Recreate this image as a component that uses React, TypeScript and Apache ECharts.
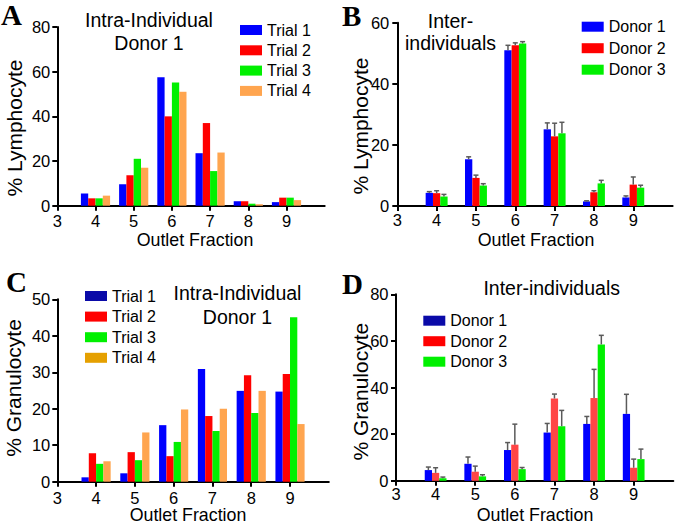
import React, { useEffect, useRef } from 'react';
import * as echarts from 'echarts';

// Outlet fractions (bar groups)
const FRACTIONS = [4, 5, 6, 7, 8, 9];

// Panel A: % Lymphocyte, intra-individual (Donor 1)
const lymphIntraTrial1 = [5.5, 9.6, 57.5, 23.5, 2.0, 1.6];
const lymphIntraTrial2 = [3.3, 13.6, 40.0, 37.0, 2.0, 3.6];
const lymphIntraTrial3 = [3.3, 21.0, 55.2, 15.5, 0.9, 3.6];
const lymphIntraTrial4 = [4.5, 17.0, 51.0, 23.8, 0.7, 2.5];

// Panel B: % Lymphocyte, inter-individuals (mean and upper error)
const lymphInterDonor1 = [4.3, 15.3, 51.0, 25.1, 1.5, 2.8];
const lymphInterDonor2 = [4.2, 9.2, 52.6, 22.8, 4.5, 7.0];
const lymphInterDonor3 = [3.1, 6.7, 53.2, 23.8, 7.4, 6.0];
const lymphInterErr1 = [0.4, 0.8, 1.6, 2.1, 0.2, 0.5];
const lymphInterErr2 = [0.8, 0.9, 0.8, 4.3, 0.5, 2.5];
const lymphInterErr3 = [0.7, 0.6, 0.6, 3.6, 1.0, 0.8];

// Panel C: % Granulocyte, intra-individual (Donor 1)
const granIntraTrial1 = [1.2, 2.3, 15.5, 30.9, 24.9, 24.7];
const granIntraTrial2 = [7.8, 8.1, 7.0, 18.0, 29.2, 29.5];
const granIntraTrial3 = [4.9, 5.9, 10.9, 13.9, 18.8, 45.1];
const granIntraTrial4 = [5.6, 13.5, 19.8, 20.0, 24.9, 15.8];

// Panel D: % Granulocyte, inter-individuals (mean and upper error)
const granInterDonor1 = [4.6, 7.3, 13.2, 20.7, 24.4, 28.7];
const granInterDonor2 = [3.4, 3.9, 15.5, 35.3, 35.5, 5.6];
const granInterDonor3 = [1.1, 1.9, 5.0, 23.4, 58.5, 9.3];
const granInterErr1 = [1.3, 2.9, 3.2, 3.9, 3.2, 8.4];
const granInterErr2 = [2.2, 2.4, 8.8, 1.9, 12.3, 3.7];
const granInterErr3 = [0.5, 0.7, 0.7, 6.8, 3.9, 4.3];

const TRIALS = ['Trial 1', 'Trial 2', 'Trial 3', 'Trial 4'];
const DONORS = ['Donor 1', 'Donor 2', 'Donor 3'];

const FONT = "'Liberation Sans', Arial, Helvetica, sans-serif";
const SERIF = "'Liberation Serif', 'Times New Roman', serif";

function barSeries(
  name: string,
  grid: number,
  values: number[],
  errors: number[] | null,
  idx: number,
  n: number,
  color: string,
  frac: number
) {
  return {
    type: 'custom',
    name,
    xAxisIndex: grid,
    yAxisIndex: grid,
    itemStyle: { color },
    encode: { x: 0, y: 1 },
    data: FRACTIONS.map((f, i) =>
      errors ? [f, values[i], values[i] + errors[i]] : [f, values[i]]
    ),
    renderItem: (params: any, api: any) => {
      const x = api.value(0);
      const v = api.value(1);
      const top = api.coord([x, v]);
      const base = api.coord([x, 0]);
      const unit = api.size([1, 0])[0];
      const bw = unit * frac;
      const cx = top[0] + (idx - (n - 1) / 2) * bw;
      const children: any[] = [
        {
          type: 'rect',
          shape: { x: cx - bw / 2, y: top[1], width: bw, height: base[1] - top[1] },
          style: { fill: color },
        },
      ];
      if (errors) {
        const e = api.coord([x, api.value(2)]);
        children.push(
          {
            type: 'line',
            shape: { x1: cx, y1: top[1], x2: cx, y2: e[1] },
            style: { stroke: '#5a5a5a', lineWidth: 1.5 },
          },
          {
            type: 'line',
            shape: { x1: cx - 2.5, y1: e[1], x2: cx + 2.5, y2: e[1] },
            style: { stroke: '#5a5a5a', lineWidth: 1.5 },
          }
        );
      }
      return { type: 'group', children };
    },
  };
}

function xAxis(grid: number, margin: number) {
  return {
    gridIndex: grid,
    type: 'value',
    min: 3,
    max: 10,
    interval: 1,
    axisLine: { show: true, lineStyle: { color: '#000', width: 2 } },
    axisTick: { show: true, length: 5, lineStyle: { color: '#000', width: 2 } },
    axisLabel: {
      margin,
      fontSize: 16.5,
      lineHeight: 14,
      color: '#000',
      fontFamily: FONT,
      showMaxLabel: false,
    },
    splitLine: { show: false },
  };
}

function yAxis(grid: number, max: number, interval: number, margin: number) {
  return {
    gridIndex: grid,
    type: 'value',
    min: 0,
    max,
    interval,
    axisLine: { show: true, lineStyle: { color: '#000', width: 2 } },
    axisTick: { show: true, length: 5, lineStyle: { color: '#000', width: 2 } },
    axisLabel: { margin, fontSize: 16.5, color: '#000', fontFamily: FONT },
    splitLine: { show: false },
  };
}

function legend(left: number, top: number, gap: number, items: { name: string; color: string }[]) {
  return {
    left,
    top,
    orient: 'vertical',
    padding: 0,
    itemGap: gap,
    itemWidth: 22,
    itemHeight: 10,
    icon: 'rect',
    selectedMode: false,
    textStyle: { fontSize: 16, lineHeight: 16, color: '#000', fontFamily: FONT },
    data: items.map((it) => ({ name: it.name, itemStyle: { color: it.color } })),
  };
}

function txt(text: string, x: number, y: number, size: number, extra: any = {}) {
  return {
    type: 'text',
    x,
    y,
    ...extra,
    style: {
      text,
      fontSize: size,
      fontFamily: FONT,
      fill: '#000',
      textAlign: 'center',
      textVerticalAlign: 'middle',
      ...(extra.style || {}),
    },
  };
}

function letter(text: string, x: number, cy: number) {
  return {
    type: 'text',
    x,
    y: cy,
    style: {
      text,
      fontSize: 29,
      fontWeight: 'bold',
      fontFamily: SERIF,
      fill: '#000',
      textAlign: 'left',
      textVerticalAlign: 'middle',
    },
  };
}

export default function App() {
  const ref = useRef<HTMLDivElement>(null);

  useEffect(() => {
    if (!ref.current) return;
    const chart = echarts.init(ref.current, null, { renderer: 'svg' });

    const BLUE = '#0000ff';
    const RED = '#ff0000';
    const GREEN = '#00f000';
    const ORANGE = '#ffa54f';
    const DARKBLUE = '#0a0aa8';
    const GOLD = '#e5a000';
    const LIGHTRED = '#ff4646';

    const option: any = {
      animation: false,
      backgroundColor: '#fff',
      grid: [
        { left: 57.3, top: 27, width: 267.4, height: 178.7 },
        { left: 397.3, top: 22.7, width: 275.3, height: 183.3 },
        { left: 57.3, top: 299.3, width: 271.5, height: 182.4 },
        { left: 396, top: 294.3, width: 277.3, height: 186.5 },
      ],
      xAxis: [xAxis(0, 8), xAxis(1, 7), xAxis(2, 9), xAxis(3, 6)],
      yAxis: [yAxis(0, 80, 20, 7), yAxis(1, 60, 20, 8), yAxis(2, 50, 10, 7), yAxis(3, 80, 20, 7.5)],
      legend: [
        legend(240, 22, 4.3, [
          { name: TRIALS[0], color: BLUE },
          { name: TRIALS[1], color: RED },
          { name: TRIALS[2], color: GREEN },
          { name: TRIALS[3], color: ORANGE },
        ]),
        legend(581.7, 18.7, 5.5, [
          { name: DONORS[0], color: BLUE },
          { name: DONORS[1], color: RED },
          { name: DONORS[2], color: GREEN },
        ]),
        legend(85, 288, 4.6, [
          { name: TRIALS[0], color: DARKBLUE },
          { name: TRIALS[1], color: RED },
          { name: TRIALS[2], color: GREEN },
          { name: TRIALS[3], color: GOLD },
        ]),
        legend(423.3, 312.7, 4.5, [
          { name: DONORS[0], color: DARKBLUE },
          { name: DONORS[1], color: RED },
          { name: DONORS[2], color: GREEN },
        ]),
      ],
      series: [
        barSeries(TRIALS[0], 0, lymphIntraTrial1, null, 0, 4, BLUE, 0.191),
        barSeries(TRIALS[1], 0, lymphIntraTrial2, null, 1, 4, RED, 0.191),
        barSeries(TRIALS[2], 0, lymphIntraTrial3, null, 2, 4, GREEN, 0.191),
        barSeries(TRIALS[3], 0, lymphIntraTrial4, null, 3, 4, ORANGE, 0.191),

        barSeries(DONORS[0], 1, lymphInterDonor1, lymphInterErr1, 0, 3, BLUE, 0.186),
        barSeries(DONORS[1], 1, lymphInterDonor2, lymphInterErr2, 1, 3, RED, 0.186),
        barSeries(DONORS[2], 1, lymphInterDonor3, lymphInterErr3, 2, 3, GREEN, 0.186),

        barSeries(TRIALS[0], 2, granIntraTrial1, null, 0, 4, BLUE, 0.188),
        barSeries(TRIALS[1], 2, granIntraTrial2, null, 1, 4, RED, 0.188),
        barSeries(TRIALS[2], 2, granIntraTrial3, null, 2, 4, GREEN, 0.188),
        barSeries(TRIALS[3], 2, granIntraTrial4, null, 3, 4, ORANGE, 0.188),

        barSeries(DONORS[0], 3, granInterDonor1, granInterErr1, 0, 3, BLUE, 0.183),
        barSeries(DONORS[1], 3, granInterDonor2, granInterErr2, 1, 3, LIGHTRED, 0.183),
        barSeries(DONORS[2], 3, granInterDonor3, granInterErr3, 2, 3, GREEN, 0.183),
      ],
      graphic: [
        letter('A', 1, 15),
        letter('B', 342, 15.5),
        letter('C', 6, 282),
        letter('D', 342, 284),

        txt('Intra-Individual\nDonor 1', 149, 31.5, 19.5, { style: { lineHeight: 23 } }),
        txt('Inter-\nindividuals', 450.5, 31.7, 19.5, { style: { lineHeight: 22 } }),
        txt('Intra-Individual\nDonor 1', 237.5, 305.2, 19.5, { style: { lineHeight: 23.7 } }),
        txt('Inter-individuals', 551.7, 288.3, 19.5),

        txt('% Lymphocyte', 14.5, 128, 21, { rotation: Math.PI / 2 }),
        txt('% Lymphocyte', 360, 126, 21, { rotation: Math.PI / 2 }),
        txt('% Granulocyte', 13, 388, 21, { rotation: Math.PI / 2 }),
        txt('% Granulocyte', 360, 391.7, 21, { rotation: Math.PI / 2 }),

        txt('Outlet Fraction', 195, 240, 17.8, { style: { lineHeight: 16 } }),
        txt('Outlet Fraction', 536, 239.5, 17.8, { style: { lineHeight: 16 } }),
        txt('Outlet Fraction', 188, 515, 17.8, { style: { lineHeight: 16 } }),
        txt('Outlet Fraction', 535, 515, 17.8, { style: { lineHeight: 16 } }),
      ],
    };

    chart.setOption(option);
    return () => chart.dispose();
  }, []);

  return (
    <div
      ref={ref}
      style={{ position: 'absolute', left: 0, top: 0, width: 675, height: 526, background: '#fff' }}
    />
  );
}
